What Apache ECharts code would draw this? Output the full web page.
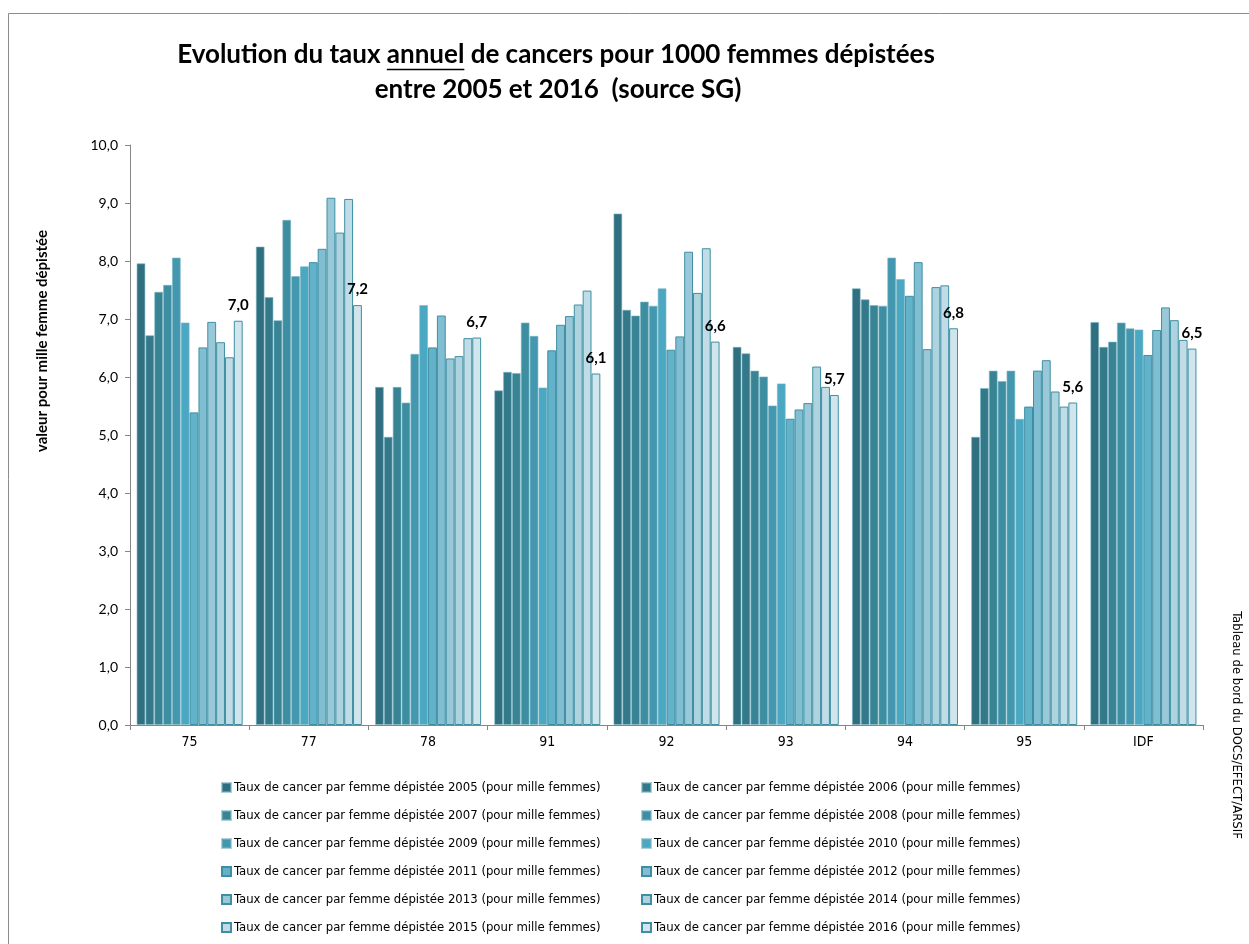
<!DOCTYPE html>
<html>
<head>
<meta charset="utf-8">
<title>Taux annuel de cancers</title>
<script src="https://cdn.jsdelivr.net/npm/echarts@6/dist/echarts.min.js"></script>
<style>
  html, body { margin: 0; padding: 0; background: #fff; }
  #chart { width: 1249px; height: 944px; }
</style>
</head>
<body>
<div id="chart"></div>
<script>
// categories (départements + IDF)
const categories = ['75', '77', '78', '91', '92', '93', '94', '95', 'IDF']
const years = ['2005', '2006', '2007', '2008', '2009', '2010', '2011', '2012', '2013', '2014', '2015', '2016']

// valeurs, une liste par année
const y2005 = [7.96, 8.25, 5.83, 5.77, 8.82, 6.52, 7.53, 4.97, 6.95]
const y2006 = [6.72, 7.38, 4.97, 6.09, 7.16, 6.41, 7.34, 5.81, 6.52]
const y2007 = [7.47, 6.98, 5.83, 6.07, 7.06, 6.11, 7.24, 6.11, 6.61]
const y2008 = [7.59, 8.71, 5.56, 6.94, 7.30, 6.01, 7.23, 5.93, 6.94]
const y2009 = [8.06, 7.74, 6.40, 6.71, 7.23, 5.51, 8.06, 6.11, 6.84]
const y2010 = [6.94, 7.91, 7.24, 5.82, 7.53, 5.89, 7.69, 5.28, 6.82]
const y2011 = [5.39, 7.98, 6.51, 6.46, 6.47, 5.28, 7.40, 5.49, 6.38]
const y2012 = [6.51, 8.21, 7.06, 6.90, 6.70, 5.44, 7.98, 6.11, 6.81]
const y2013 = [6.95, 9.09, 6.32, 7.05, 8.16, 5.55, 6.48, 6.29, 7.20]
const y2014 = [6.60, 8.49, 6.36, 7.25, 7.45, 6.18, 7.55, 5.75, 6.98]
const y2015 = [6.34, 9.07, 6.67, 7.49, 8.22, 5.83, 7.58, 5.49, 6.64]
const y2016 = [6.97, 7.24, 6.68, 6.06, 6.61, 5.69, 6.84, 5.56, 6.49]
const yearValues = [y2005, y2006, y2007, y2008, y2009, y2010, y2011, y2012, y2013, y2014, y2015, y2016]

const color = ['#2F6F7F', '#33798A', '#388394', '#3E8EA2', '#4398AF', '#4BA8C3',
  '#62B2CA', '#82BED2', '#99C9D8', '#ADD3DF', '#C0DCE6', '#D1E5EC']

const titleLine1 = 'Evolution du taux annuel de cancers pour 1000 femmes dépistées'
const titleLine2 = 'entre 2005 et 2016  (source SG)'
const titleFont = 'bold 26px Lato, "Liberation Sans", sans-serif'
const narrow = '"Liberation Sans Narrow", "DejaVu Sans Condensed", Lato, sans-serif'

const seriesName = y => 'Taux de cancer par femme dépistée ' + y + ' (pour mille femmes)'
const fmt = v => v.toFixed(1).replace('.', ',')

// position du soulignement de "annuel"
const ctx = document.createElement('canvas').getContext('2d')
ctx.font = titleFont
const titleX = 556
const fullW = ctx.measureText(titleLine1).width
const preW = ctx.measureText('Evolution du taux ').width
const wordW = ctx.measureText('annuel').width
const ulX = titleX - fullW / 2 + preW

const myChart = echarts.init(document.getElementById('chart'))

const series = years.map((y, i) => ({
  name: seriesName(y),
  type: 'bar',
  data: yearValues[i],
  barGap: '0%',
  barCategoryGap: '11%',
  itemStyle: {
    color: color[i],
    borderColor: i < 6 ? 'rgba(120,180,195,0.6)' : '#3F8FA3',
    borderWidth: 1
  },
  label: i === years.length - 1 ? {
    show: true,
    position: 'top',
    distance: 8,
    fontFamily: 'Lato, sans-serif',
    fontWeight: 'bold',
    fontSize: 15,
    color: '#000',
    formatter: p => fmt(p.value)
  } : {show: false}
}))

const legendBase = {
  orient: 'vertical',
  itemWidth: 9,
  itemHeight: 9,
  itemGap: 15,
  icon: 'rect',
  top: 776,
  textStyle: {
    fontFamily: narrow,
    fontSize: 13,
    color: '#000',
    padding: [0, 0, 0, -2]
  }
}

const option = {
  animation: false,
  backgroundColor: '#fff',
  color: color,
  grid: {
    left: 130,
    right: 46,
    top: 145,
    bottom: 219
  },
  legend: [
    Object.assign({}, legendBase, {
      left: 216,
      data: years.filter((y, i) => i % 2 === 0).map(seriesName)
    }),
    Object.assign({}, legendBase, {
      left: 636,
      data: years.filter((y, i) => i % 2 === 1).map(seriesName)
    })
  ],
  xAxis: {
    type: 'category',
    data: categories,
    axisLine: {lineStyle: {color: '#868686', width: 1}},
    axisTick: {show: true, length: 5, lineStyle: {color: '#868686'}},
    axisLabel: {
      color: '#000',
      fontFamily: narrow,
      fontSize: 14,
      margin: 10
    }
  },
  yAxis: {
    type: 'value',
    min: 0,
    max: 10,
    interval: 1,
    splitLine: {show: false},
    axisLine: {show: true, lineStyle: {color: '#868686', width: 1}},
    axisTick: {show: true, length: 5, lineStyle: {color: '#868686'}},
    axisLabel: {
      color: '#000',
      fontFamily: 'Lato, sans-serif',
      fontSize: 14,
      margin: 12,
      formatter: v => fmt(v)
    }
  },
  graphic: [
    // cadre
    {
      type: 'rect',
      shape: {x: 8.5, y: 13.5, width: 1246, height: 960},
      style: {fill: 'none', stroke: '#8c8c8c', lineWidth: 1},
      silent: true
    },
    {
      type: 'text',
      style: {
        text: titleLine1,
        x: titleX,
        y: 55,
        align: 'center',
        verticalAlign: 'middle',
        font: titleFont,
        fill: '#000'
      }
    },
    {
      type: 'text',
      style: {
        text: titleLine2,
        x: 558,
        y: 90,
        align: 'center',
        verticalAlign: 'middle',
        font: titleFont,
        fill: '#000'
      }
    },
    {
      type: 'line',
      shape: {x1: ulX, y1: 69.5, x2: ulX + wordW, y2: 69.5},
      style: {stroke: '#000', lineWidth: 1.5}
    },
    // titre de l'axe Y
    {
      type: 'text',
      x: 42,
      y: 341,
      rotation: Math.PI / 2,
      style: {
        text: 'valeur pour mille femme dépistée',
        align: 'center',
        verticalAlign: 'middle',
        font: 'bold 15px Lato, sans-serif',
        fill: '#000'
      }
    },
    // source à droite
    {
      type: 'text',
      x: 1236,
      y: 725,
      rotation: -Math.PI / 2,
      style: {
        text: 'Tableau de bord du DOCS/EFECT/ARSIF',
        align: 'center',
        verticalAlign: 'middle',
        font: '13px ' + narrow,
        fill: '#000'
      }
    }
  ],
  series: series
}

myChart.setOption(option)
window.addEventListener('resize', function () {
  if (myChart) myChart.resize()
})
</script>
</body>
</html>
